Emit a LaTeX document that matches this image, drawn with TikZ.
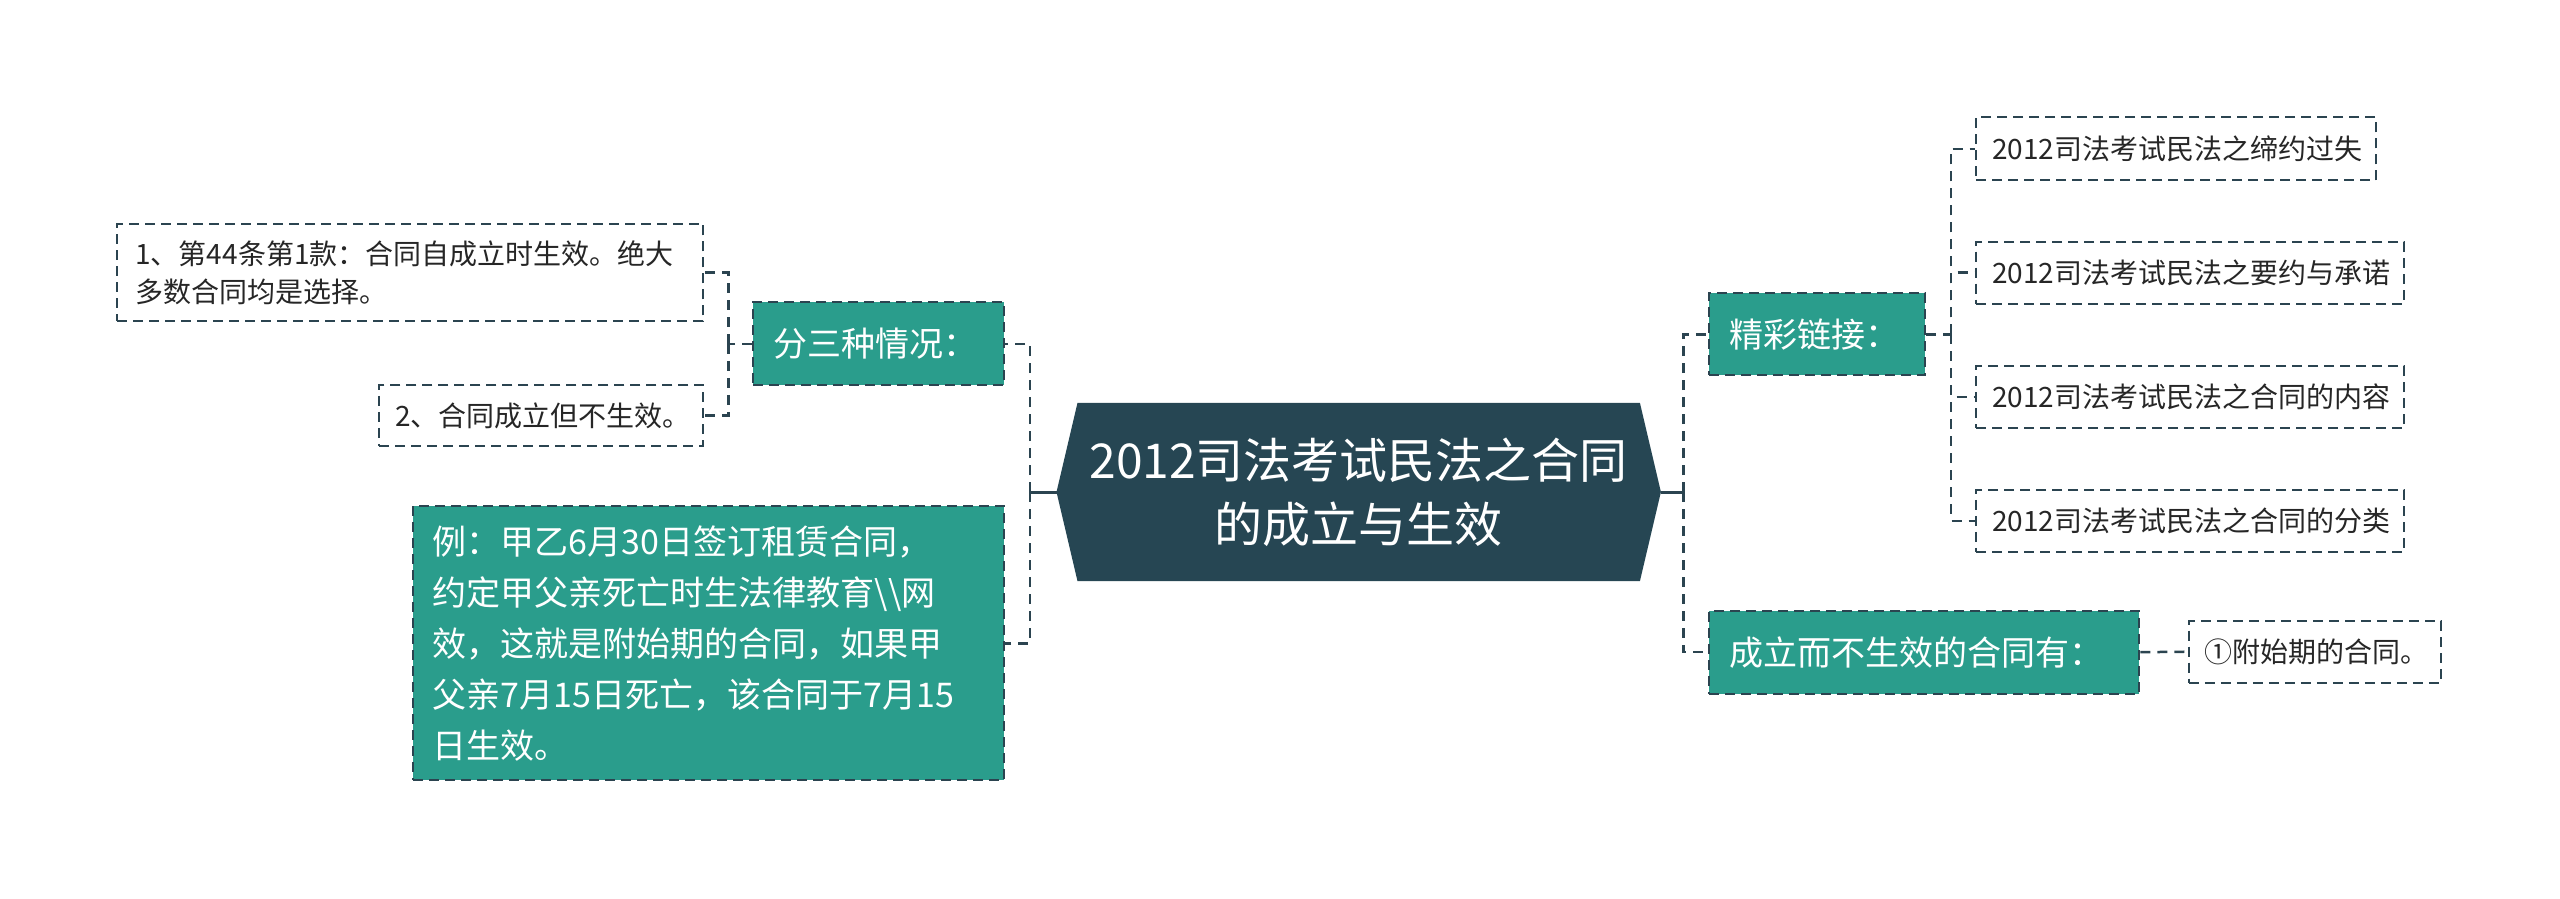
\documentclass[tikz,border=0pt]{standalone}
\usepackage{fontspec}
\setmainfont{Noto Sans CJK SC}
\definecolor{teal0}{HTML}{2A9D8C}
\definecolor{dark0}{HTML}{264653}
\definecolor{line0}{HTML}{2B4450}
\pgfdeclarelayer{bg}\pgfsetlayers{bg,main}
\begin{document}
\begin{tikzpicture}[x=1pt,y=-1pt,
  conn/.style={line0, line width=2.5pt, dash pattern=on 10pt off 7pt},
  solidc/.style={line0, line width=3pt},
  leaf/.style={draw=line0, line width=2pt, dash pattern=on 10pt off 6pt, fill=white, text=black!85,
    font=\fontsize{28}{38}\selectfont, align=left, inner xsep=16pt, inner ysep=0pt},
  sub/.style={draw=line0, line width=2pt, dash pattern=on 10pt off 6pt, fill=teal0, text=white,
    font=\fontsize{34}{51}\selectfont, align=left, inner xsep=20pt, inner ysep=0pt}]
\useasboundingbox (0,0) rectangle (2560,899);

% center
\node[minimum width=604pt, minimum height=178pt, text=white, inner sep=0pt,
  font=\fontsize{48}{64}\selectfont, align=center] (c) at (1358.7,492)
  {2012司法考试民法之合同\\的成立与生效};
\begin{pgfonlayer}{bg}
\fill[dark0] ([xshift=21pt]c.north west) -- ([xshift=-21pt]c.north east) -- (c.east)
  -- ([xshift=-21pt]c.south east) -- ([xshift=21pt]c.south west) -- (c.west) -- cycle;
\end{pgfonlayer}

% left side
\node[leaf, inner xsep=18pt, text width=550pt, minimum height=97.5pt] (b1) at (410.4,272.6)
  {1、第44条第1款：合同自成立时生效。绝大\\多数合同均是选择。};
\node[leaf, text width=292pt, minimum height=61pt] (b2) at (541.3,415.4)
  {2、合同成立但不生效。};
\node[sub, text width=211pt, minimum height=83pt] (fen) at (878.6,343.8) {分三种情况：};
\node[sub, text width=551pt, minimum height=274pt] (ex) at (708.4,643.3)
  {例：甲乙6月30日签订租赁合同，\\约定甲父亲死亡时生法律教育\textbackslash\textbackslash 网\\效，这就是附始期的合同，如果甲\\父亲7月15日死亡，该合同于7月15\\日生效。};

% right side
\node[sub, text width=176pt, minimum height=82pt] (jing) at (1817.4,334.3) {精彩链接：};
\node[sub, text width=390pt, minimum height=83pt] (cheng) at (1924.3,652.2) {成立而不生效的合同有：};
\node[leaf, text width=368pt, minimum height=63pt] (r1) at (2176.1,148.8) {2012司法考试民法之缔约过失};
\node[leaf, text width=396pt, minimum height=62pt] (r2) at (2190,272.6) {2012司法考试民法之要约与承诺};
\node[leaf, text width=396pt, minimum height=62pt] (r3) at (2190,397) {2012司法考试民法之合同的内容};
\node[leaf, text width=396pt, minimum height=62pt] (r4) at (2190,520.9) {2012司法考试民法之合同的分类};
\node[leaf, text width=220pt, minimum height=62pt] (fu) at (2314.9,651.7) {①附始期的合同。};

% connectors
\coordinate (jl) at (1029.8,492);
\coordinate (jr) at (1683.5,492);
\coordinate (jf) at (728.3,343.8);
\coordinate (jj) at (1951.2,334.3);
\draw[solidc] (c.west) -- (jl);
\draw[conn] (jl) |- (fen.east);
\draw[conn] (jl) |- (ex.east);
\draw[conn] (fen.west) -- (jf);
\draw[conn] (jf) |- (b1.east);
\draw[conn] (jf) |- (b2.east);
\draw[solidc] (c.east) -- (jr);
\draw[conn] (jr) |- (jing.west);
\draw[conn] (jr) |- (cheng.west);
\draw[conn] (jing.east) -- (jj);
\draw[conn] (jj) |- (r1.west);
\draw[conn] (jj) |- (r2.west);
\draw[conn] (jj) |- (r3.west);
\draw[conn] (jj) |- (r4.west);
\draw[conn] (cheng.east) -- (fu.west);
\end{tikzpicture}
\end{document}
